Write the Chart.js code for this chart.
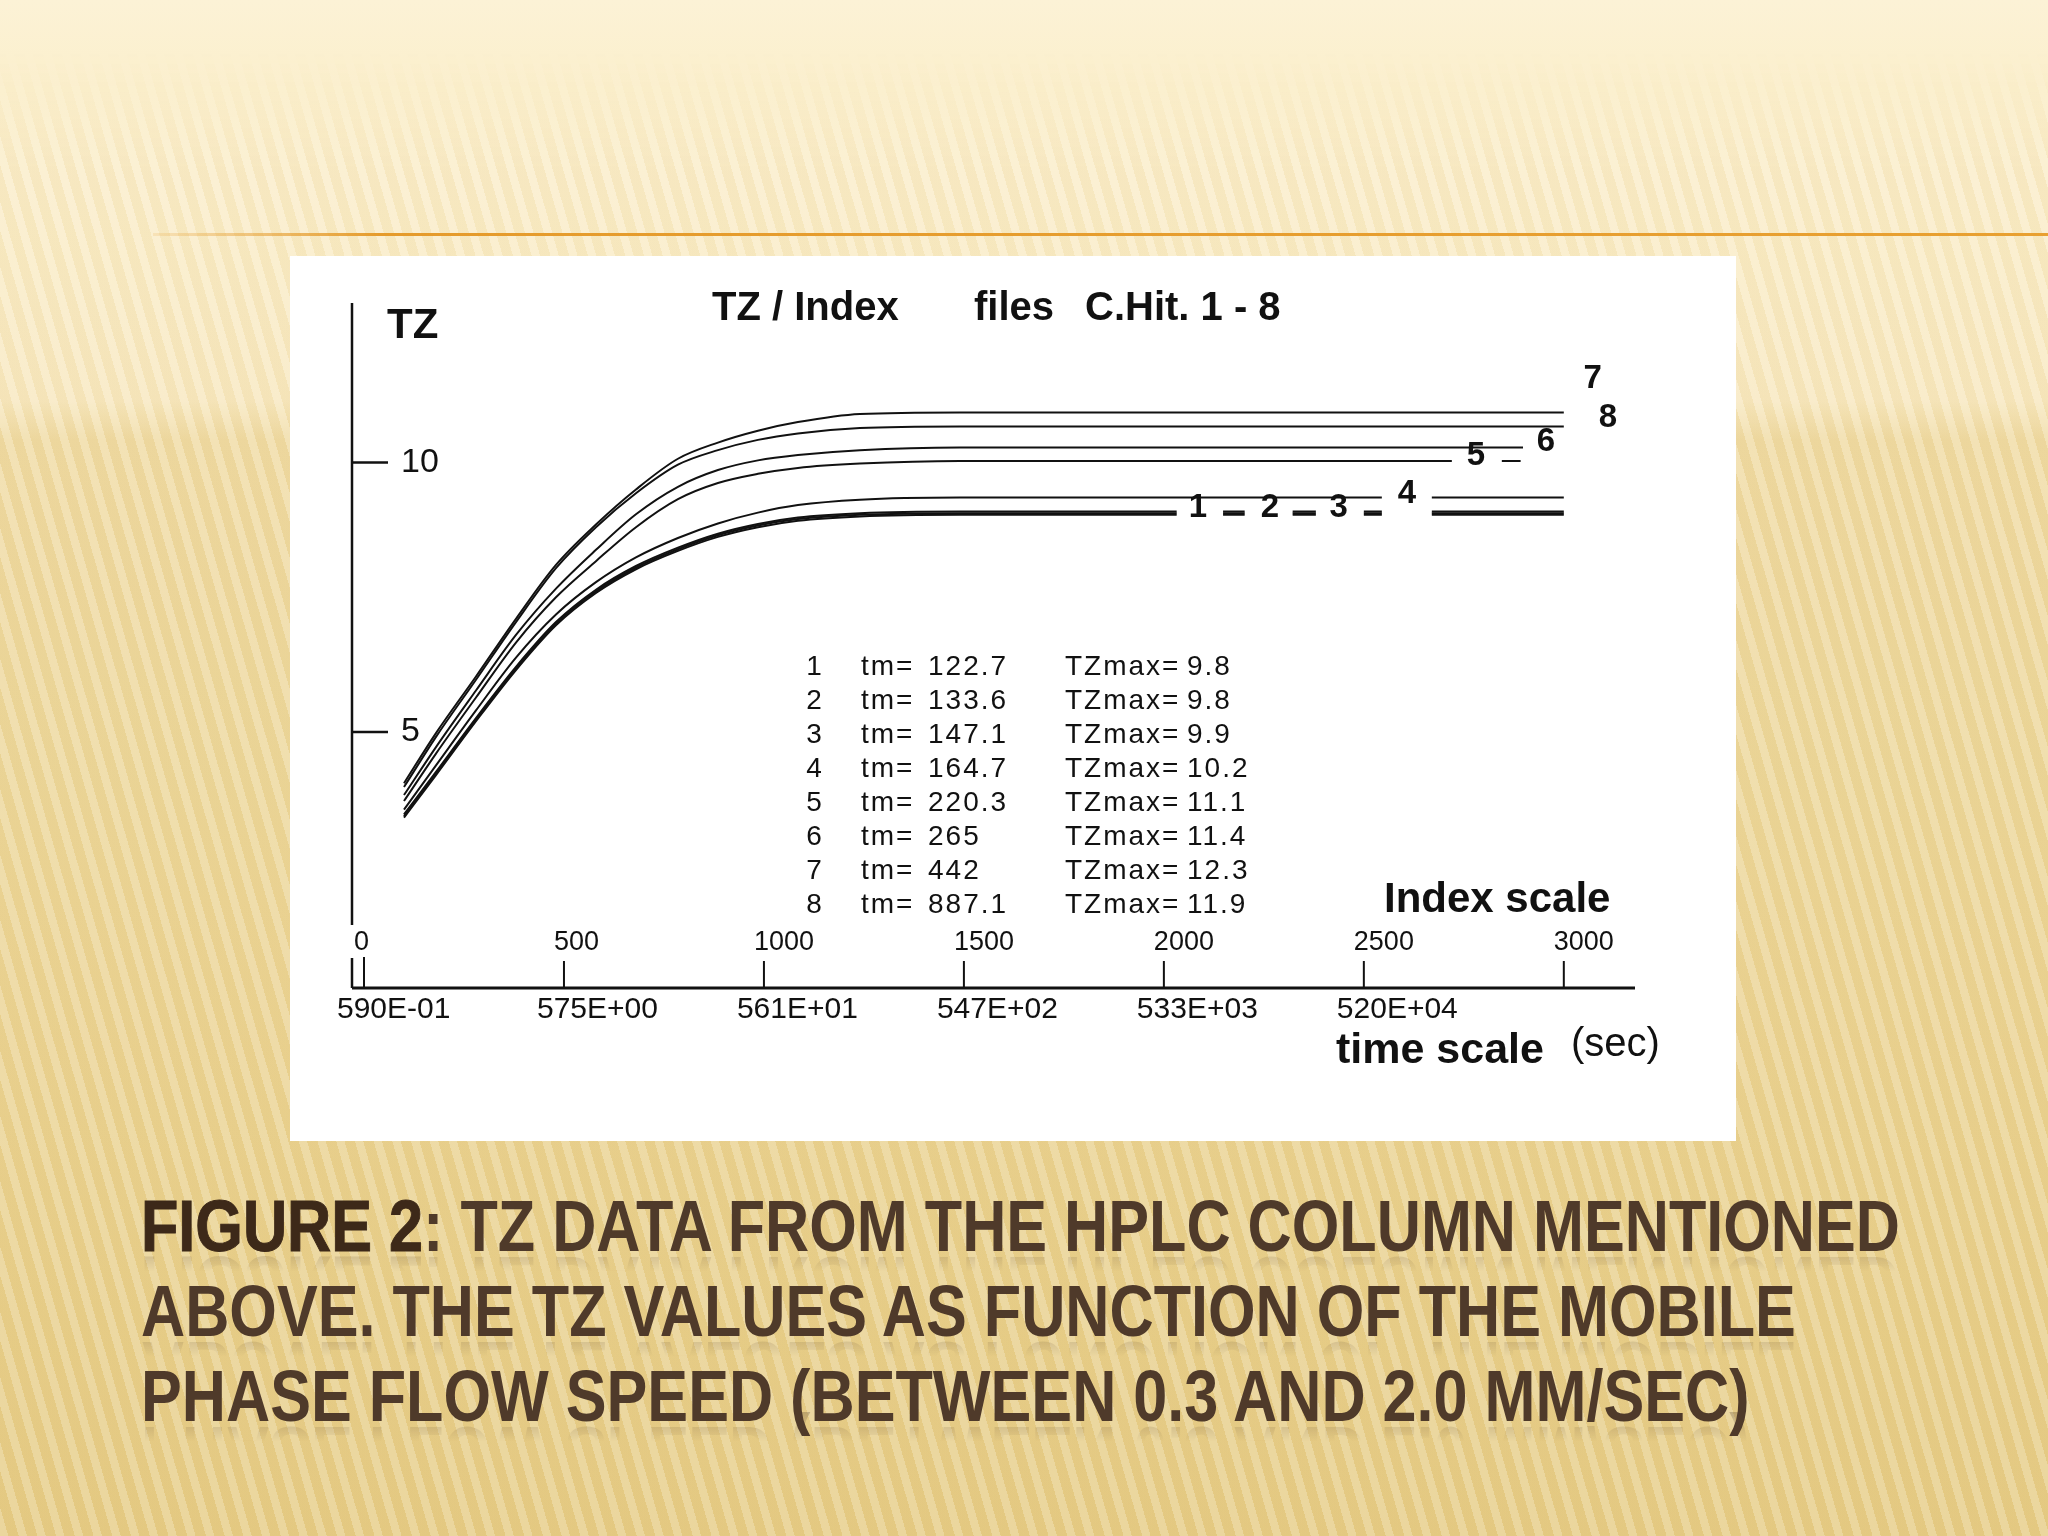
<!DOCTYPE html>
<html>
<head>
<meta charset="utf-8">
<title>TZ / Index</title>
<script src="https://cdn.jsdelivr.net/npm/chart.js@4.4.1/dist/chart.umd.min.js"></script>
<style>
  html, body { margin: 0; padding: 0; }
  body {
    width: 2048px; height: 1536px; overflow: hidden; position: relative;
    background: linear-gradient(180deg, #fcf2d6 0px, #fbefcc 90px, #f8e8bf 400px, #f0dba3 440px, #ecd596 900px, #e6cc85 1536px);
  }
  .stripes {
    position: absolute; left: 0; top: 50px; width: 2048px; height: 1486px;
    background: repeating-linear-gradient(74deg, rgba(255,255,255,0.20) 0 8px, rgba(190,150,60,0.05) 8px 18px);
    -webkit-mask-image: linear-gradient(180deg, transparent 0, #000 120px, #000 100%);
  }
  .rule {
    position: absolute; left: 153px; top: 233px; width: 1895px; height: 3px;
    background: linear-gradient(90deg, rgba(230,155,40,0.15), #e59b2c 12%, #e8a031);
  }
  .panel { position: absolute; left: 290px; top: 256px; width: 1446px; height: 885px; background: #fff; }
  canvas { position: absolute; left: 0; top: 0; }
  .caption {
    position: absolute; left: 141px; top: 1184px;
    font: bold 72px "Liberation Sans", Arial, sans-serif;
    color: #4f3a2a; white-space: nowrap;
  }
  .caption div {
    height: 85px; line-height: 85px; transform-origin: 0 0;
    -webkit-box-reflect: below -30px linear-gradient(transparent 62%, rgba(255,255,255,0.30));
  }
  .caption span { display: inline-block; }
  .caption b { color: #3d2919; -webkit-text-stroke: 1px #3d2919; }
</style>
</head>
<body>
<div class="stripes"></div>
<div class="rule"></div>
<div class="panel"></div>
<canvas id="tzChart" width="2048" height="1536"></canvas>
<div class="caption">
  <div><span><b>FIGURE 2</b>: TZ DATA FROM THE HPLC COLUMN MENTIONED</span></div>
  <div><span>ABOVE. THE TZ VALUES AS FUNCTION OF THE MOBILE</span></div>
  <div><span>PHASE FLOW SPEED (BETWEEN 0.3 AND 2.0 MM/SEC)</span></div>
</div>
<script>
const tzIndex = [100, 180, 280, 380, 480, 580, 680, 785, 885, 985, 1085, 1240, 1490];

// TZ values per run (files C.Hit. 1 - 8)
const tz1 = [3.41, 4.20, 5.20, 6.15, 6.98, 7.58, 8.02, 8.36, 8.62, 8.80, 8.92, 9.00, 9.03];
const tz2 = [3.44, 4.23, 5.23, 6.18, 7.01, 7.61, 8.05, 8.39, 8.65, 8.83, 8.95, 9.03, 9.06];
const tz3 = [3.47, 4.26, 5.26, 6.21, 7.04, 7.64, 8.08, 8.42, 8.68, 8.86, 8.98, 9.06, 9.09];
const tz4 = [3.56, 4.38, 5.40, 6.38, 7.18, 7.78, 8.24, 8.60, 8.87, 9.07, 9.21, 9.31, 9.35];
const tz5 = [3.72, 4.60, 5.64, 6.66, 7.50, 8.17, 8.80, 9.32, 9.62, 9.79, 9.90, 9.98, 10.03];
const tz6 = [3.83, 4.72, 5.77, 6.80, 7.66, 8.38, 9.04, 9.55, 9.86, 10.04, 10.14, 10.23, 10.28];
const tz7 = [4.05, 4.98, 6.03, 7.10, 8.10, 8.85, 9.50, 10.07, 10.37, 10.59, 10.75, 10.90, 10.93];
const tz8 = [3.98, 4.91, 5.97, 7.04, 8.04, 8.80, 9.43, 9.96, 10.23, 10.42, 10.54, 10.64, 10.67];

// flat runs after the last read point (index from - to), gaps hold the labels
const runs123 = [[1490, 2032], [2148, 2202], [2322, 2380], [2500, 2545], [2670, 3000]];
const runs4 = [[1490, 2545], [2670, 3000]];
const runs5 = [[1490, 2720], [2845, 2892]];
const runs6 = [[1490, 2898]];
const runs78 = [[1490, 3000]];

// line labels sitting at the end of the curves
const lineLabels = ['7', '8', '6', '5', '4', '1', '2', '3'];
const lineLabelIndex = [3072, 3110, 2955, 2780, 2608, 2085, 2265, 2437];
const lineLabelTZ = [11.55, 10.83, 10.39, 10.12, 9.42, 9.16, 9.16, 9.16];

// table in the middle of the plot
const runIds = ['1', '2', '3', '4', '5', '6', '7', '8'];
const tmValues = ['122.7', '133.6', '147.1', '164.7', '220.3', '265', '442', '887.1'];
const tzMaxValues = ['9.8', '9.8', '9.9', '10.2', '11.1', '11.4', '12.3', '11.9'];

// axes
const yTicks = [5, 10];
const indexTicks = [0, 500, 1000, 1500, 2000, 2500, 3000];
const timeLabels = ['590E-01', '575E+00', '561E+01', '547E+02', '533E+03', '520E+04', ''];

function buildPoints(values, runs) {
  const pts = tzIndex.map((x, i) => ({ x: x, y: values[i] }));
  const level = values[values.length - 1];
  runs.forEach((r, k) => {
    if (k > 0) {
      pts.push({ x: (runs[k - 1][1] + r[0]) / 2, y: null });
      pts.push({ x: r[0], y: level });
    }
    pts.push({ x: r[1], y: level });
  });
  return pts;
}

function lineSet(label, values, runs) {
  return {
    label: label,
    data: buildPoints(values, runs),
    borderColor: '#111',
    borderWidth: 2,
    pointRadius: 0,
    fill: false,
    spanGaps: false,
    cubicInterpolationMode: 'monotone'
  };
}

const SANS = '"Liberation Sans", Arial, sans-serif';

const paperAxes = {
  id: 'paperAxes',
  afterDatasetsDraw(chart) {
    const { ctx, chartArea: a, scales: { x, y } } = chart;
    ctx.save();
    ctx.strokeStyle = '#111';
    ctx.fillStyle = '#111';

    // y axis (stops short of the index labels)
    ctx.lineWidth = 2.5;
    ctx.beginPath();
    ctx.moveTo(a.left, a.top);
    ctx.lineTo(a.left, a.bottom - 63);
    ctx.moveTo(a.left, a.bottom - 30);
    ctx.lineTo(a.left, a.bottom);
    ctx.stroke();

    ctx.font = '34px ' + SANS;
    ctx.textBaseline = 'middle';
    ctx.textAlign = 'left';
    yTicks.forEach(v => {
      const py = y.getPixelForValue(v);
      ctx.beginPath();
      ctx.moveTo(a.left, py);
      ctx.lineTo(a.left + 36, py);
      ctx.stroke();
      ctx.fillText(String(v), a.left + 49, py);
    });

    ctx.font = 'bold 42px ' + SANS;
    ctx.textBaseline = 'alphabetic';
    ctx.fillText('TZ', a.left + 35, a.top + 35);

    // x axis
    ctx.lineWidth = 3;
    ctx.beginPath();
    ctx.moveTo(a.left, a.bottom);
    ctx.lineTo(a.right, a.bottom);
    ctx.stroke();

    ctx.lineWidth = 2;
    indexTicks.forEach((v, i) => {
      const px = x.getPixelForValue(v);
      ctx.beginPath();
      ctx.moveTo(px, a.bottom);
      ctx.lineTo(px, a.bottom - (i === 0 ? 31 : 27));
      ctx.stroke();
      ctx.font = '27px ' + SANS;
      ctx.textBaseline = 'alphabetic';
      ctx.fillText(String(v), px - 10, a.bottom - 38);
      ctx.font = '30px ' + SANS;
      ctx.fillText(timeLabels[i], px - 27, a.bottom + 30);
    });

    ctx.font = 'bold 42px ' + SANS;
    ctx.textBaseline = 'middle';
    ctx.fillText('Index scale', 1384, 900);
    ctx.font = 'bold 43px ' + SANS;
    ctx.fillText('time scale', 1336, 1051);
    ctx.font = '40px ' + SANS;
    ctx.fillText('(sec)', 1571, 1045);

    // title
    ctx.font = 'bold 40px ' + SANS;
    ctx.textBaseline = 'alphabetic';
    ctx.fillText('TZ / Index', 712, 320);
    ctx.fillText('files', 974, 320);
    ctx.fillText('C.Hit. 1 - 8', 1085, 320);

    // curve labels
    ctx.font = 'bold 33px ' + SANS;
    ctx.textAlign = 'center';
    ctx.textBaseline = 'middle';
    lineLabels.forEach((t, i) => {
      ctx.fillText(t, x.getPixelForValue(lineLabelIndex[i]), y.getPixelForValue(lineLabelTZ[i]));
    });

    // tm / TZmax table
    ctx.font = '28px ' + SANS;
    ctx.letterSpacing = '2px';
    runIds.forEach((id, i) => {
      const py = 667 + i * 34.1;
      ctx.textAlign = 'center';
      ctx.fillText(id, 815, py);
      ctx.textAlign = 'left';
      ctx.fillText('tm=', 861, py);
      ctx.fillText(tmValues[i], 928, py);
      ctx.fillText('TZmax=', 1065, py);
      ctx.fillText(tzMaxValues[i], 1187, py);
    });
    ctx.restore();
  }
};

new Chart(document.getElementById('tzChart'), {
  type: 'line',
  data: {
    datasets: [
      lineSet('1', tz1, runs123),
      lineSet('2', tz2, runs123),
      lineSet('3', tz3, runs123),
      lineSet('4', tz4, runs4),
      lineSet('5', tz5, runs5),
      lineSet('6', tz6, runs6),
      lineSet('7', tz7, runs78),
      lineSet('8', tz8, runs78)
    ]
  },
  options: {
    responsive: false,
    animation: false,
    devicePixelRatio: 1,
    layout: { padding: { left: 352, right: 413, top: 303, bottom: 548 } },
    scales: {
      x: { type: 'linear', min: -30, max: 3178, display: false },
      y: { type: 'linear', min: 0.25, max: 12.96, display: false }
    },
    plugins: {
      legend: { display: false },
      tooltip: { enabled: false },
      title: { display: false }
    }
  },
  plugins: [paperAxes]
});

// squeeze the caption to the condensed width of the slide font
const capLines = document.querySelectorAll('.caption div');
const firstSpan = capLines[0].querySelector('span');
const squeeze = 1759 / firstSpan.getBoundingClientRect().width;
capLines.forEach(d => { d.style.transform = 'scaleX(' + squeeze + ')'; });
</script>
</body>
</html>
